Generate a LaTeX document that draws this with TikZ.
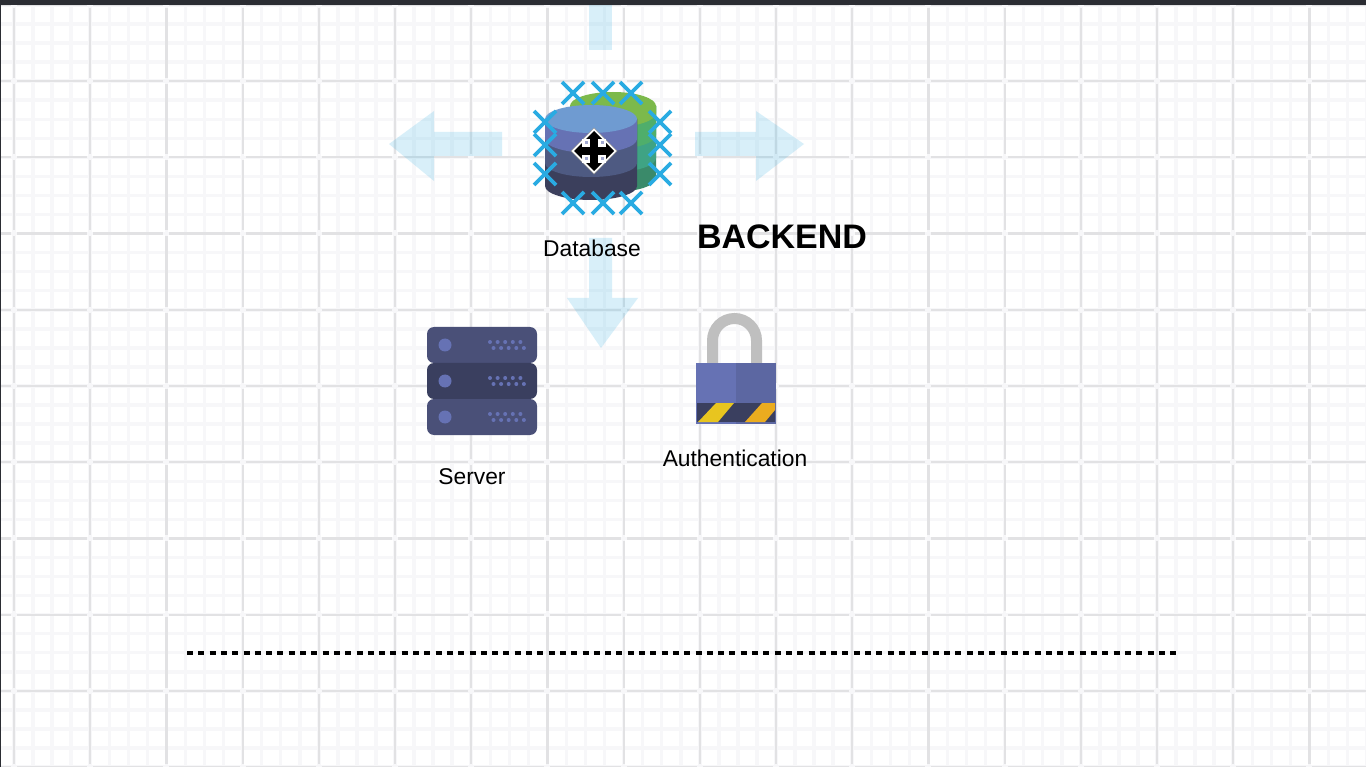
\documentclass[tikz,border=0pt]{standalone}
\usepackage{fontspec}
\setmainfont{Liberation Sans}
\usetikzlibrary{calc}

\definecolor{gridmajor}{HTML}{E2E2E4}
\definecolor{gridminor}{HTML}{F7F7F9}
\definecolor{barcol}{HTML}{2B2D33}
\definecolor{selblue}{HTML}{29ABE2}
\definecolor{slate}{HTML}{4A5078}
\definecolor{slatedark}{HTML}{3A3F5F}
\definecolor{iris}{HTML}{6672B4}

\tikzset{
	moveshaft/.style={fill=selblue,fill opacity=0.18},
	selmark/.style={draw=selblue,line width=3.8pt},
	iconlabel/.style={font=\fontsize{22.8}{26}\selectfont,text=black,inner sep=0pt},
	serverrow/.style={rounded corners=7pt},
	gridline/.style={gridmajor,line width=2.2pt,dash pattern=on 70.2pt off 6pt},
}

\begin{document}
\begin{tikzpicture}[x=1pt,y=-1pt]
		\useasboundingbox (0,0) rectangle (1366,767);
		\fill[white] (0,0) rectangle (1366,767);
		
		% grid
		\foreach \n in {0,...,71} {
			\draw[gridminor,line width=3.5pt] ({14+19.05*\n},5) -- ({14+19.05*\n},767);
		}
		\foreach \n in {0,...,40} {
			\draw[gridminor,line width=3.5pt] (0,{5+19.05*\n}) -- (1366,{5+19.05*\n});
		}
		\foreach \n in {0,...,17} {
			\draw[gridline] ({14+76.2*\n},-68.4) -- ({14+76.2*\n},767);
		}
		\foreach \n in {0,...,10} {
			\draw[gridline] (-59.2,{5+76.2*\n}) -- (1366,{5+76.2*\n});
		}
		\fill[barcol] (0,0) rectangle (1366,5);
		\fill[barcol] (0,0) rectangle (1,767);
		
		% move arrows
		\fill[moveshaft] (589,5) rectangle (612,50);
		\fill[moveshaft] (502,132) -- (434,132) -- (434,111) -- (389,144) -- (434,181) -- (434,156) -- (502,156) -- cycle;
		\fill[moveshaft] (695,132) -- (756,132) -- (756,111) -- (804,144) -- (756,181) -- (756,156) -- (695,156) -- cycle;
		\fill[moveshaft] (589,238) -- (612,238) -- (612,298) -- (638,298) -- (601,348) -- (567,298) -- (589,298) -- cycle;
		
		% database
		\foreach \b/\col in {178/3A8A6A, 158/3FA384, 135/4FAE6B, 113/7CB94B} {
			\definecolor{bandcol}{HTML}{\col}
			\fill[bandcol] (570,106) -- (570,\b) arc[start angle=180,end angle=360,x radius=43pt,y radius=14pt] -- (656,106) -- cycle;
		}
		\definecolor{bandcol}{HTML}{7CB94B}
		\fill[bandcol] (613,106) ellipse[x radius=43pt,y radius=14pt];
		\foreach \b/\col in {186/3B3F5C, 163/4E5A82, 139/6672B4} {
			\definecolor{bandcol}{HTML}{\col}
			\fill[bandcol] (545,119) -- (545,\b) arc[start angle=180,end angle=360,x radius=46pt,y radius=14pt] -- (637,119) -- cycle;
		}
		\definecolor{bandcol}{HTML}{6F9BD1}
		\fill[bandcol] (591,119) ellipse[x radius=46pt,y radius=14pt];
		\node (database) at (592,248) [iconlabel] {Database};
		
		% selection marks
		\foreach \x/\y in {573/93, 603/93, 631/93, 573/203, 603/203, 631/203, 545/122, 545/145, 545/174, 660/122, 660/145, 660/174} {
			\draw[selmark] (\x-11,\y-11) -- (\x+11,\y+11);
			\draw[selmark] (\x-11,\y+11) -- (\x+11,\y-11);
		}
		
		% cursor
		\begin{scope}[shift={(594,151)}]
			\fill[white,draw=black!40,line width=0.6pt] (-23,0) -- (0,-23) -- (23,0) -- (0,23) -- cycle;
			\fill[black] (-20,0) -- (0,-20) -- (20,0) -- (0,20) -- cycle;
			\foreach \x/\y in {-8/-8, 8/-8, -8/8, 8/8} {
				\fill[white] (\x-4,\y-4) rectangle (\x+4,\y+4);
				\fill[iris!60] (\x-1.5,\y-1.5) rectangle (\x+1.5,\y+1.5);
			}
		\end{scope}
		
		% server
		\foreach \y/\col in {327/slate, 363/slatedark, 399/slate} {
			\fill[\col,serverrow] (427,\y) rectangle (537,\y+36);
			\fill[iris] (445,\y+18) circle (6.5pt);
			\foreach \n in {0,...,4} {
				\fill[iris] ({490+7.6*\n},\y+15) circle (2pt);
				\fill[iris] ({493.5+7.6*\n},\y+21) circle (2pt);
			}
		}
		\node (server) at (472,477) [iconlabel] {Server};
		
		% lock
		\draw[black!25,line width=11pt] (712.5,364) -- (712.5,340.5) arc[start angle=180,end angle=0,radius=22pt] -- (756.5,364);
		\fill[iris] (696,363) rectangle (736,424);
		\fill[iris!90!black] (736,363) rectangle (776,424);
		\fill[slatedark] (697,403) rectangle (775,422);
		\definecolor{stripeone}{HTML}{E8C51F}
		\definecolor{stripetwo}{HTML}{EBAC1F}
		\fill[stripeone] (698,422) -- (716,403) -- (734,403) -- (718,422) -- cycle;
		\fill[stripetwo] (745,422) -- (762,403) -- (775,403) -- (775,410) -- (765,422) -- cycle;
		\node (auth) at (735,458) [iconlabel] {Authentication};
		
		\node (backend) at (782,237) [inner sep=0pt,text=black,font=\fontsize{34}{40}\selectfont\bfseries] {BACKEND};
		
		% divider
		\coordinate (divleft) at (187,653);
		\coordinate (divright) at (1177,653);
		\draw[black,line width=4.5pt,dash pattern=on 6pt off 5.3pt] (divleft) -- (divright);
		
	\end{tikzpicture}
\end{document}
